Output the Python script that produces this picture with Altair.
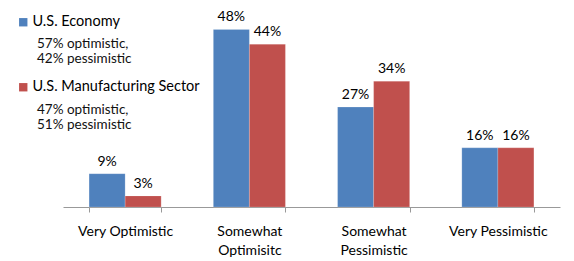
import altair as alt
import pandas as pd

categories = ["Very Optimistic", "Somewhat|Optimisitc", "Somewhat|Pessimistic", "Very Pessimistic"]
series = ["U.S. Economy", "U.S. Manufacturing Sector"]
economy = [9, 48, 27, 16]
manufacturing = [3, 44, 34, 16]
notes_economy = ["57% optimistic,", "42% pessimistic"]
notes_manufacturing = ["47% optimistic,", "51% pessimistic"]
colors = ["#4F81BD", "#C0504D"]

rows = []
for c, v in zip(categories, economy):
    rows.append({"cat": c, "series": series[0], "value": v})
for c, v in zip(categories, manufacturing):
    rows.append({"cat": c, "series": series[1], "value": v})
df = pd.DataFrame(rows)
df["label"] = df["value"].astype(str) + "%"

FONT = "Lato"

x = alt.X("cat:N", sort=categories, title=None,
          scale=alt.Scale(paddingInner=0.42, paddingOuter=0.21),
          axis=alt.Axis(labelExpr="split(datum.label, '|')", labelAngle=0,
                        labelFontSize=14, labelFont=FONT, labelColor="#000",
                        labelPadding=12, labelLineHeight=19, labelBaseline="top",
                        tickBand="extent", tickSize=5, tickColor="#999",
                        domainColor="#999", grid=False))
xo = alt.XOffset("series:N", sort=series, scale=alt.Scale(paddingInner=0, paddingOuter=0))
y = alt.Y("value:Q", scale=alt.Scale(domain=[0, 50]), axis=None)
color = alt.Color("series:N", sort=series,
                  scale=alt.Scale(domain=series, range=colors),
                  legend=alt.Legend(orient="none", legendX=-47, legendY=-7, title=None,
                                    symbolType="square", symbolSize=70, symbolStrokeWidth=0,
                                    labelFontSize=14.5, labelFont=FONT, labelColor="#000",
                                    rowPadding=50, padding=0, labelOffset=2, labelLimit=300))

base = alt.Chart(df)
bars = base.mark_bar(stroke="white", strokeWidth=0.3, strokeOpacity=0.6).encode(x=x, xOffset=xo, y=y, color=color)
texts = base.mark_text(baseline="bottom", dy=-5, fontSize=14, font=FONT, color="#000").encode(
    x=x, xOffset=xo, y=y, text="label:N")

n1 = alt.Chart(pd.DataFrame({"t": [notes_economy]})).mark_text(
    align="left", baseline="middle", fontSize=13.5, font=FONT, color="#111", lineHeight=15
).encode(x=alt.value(-26), y=alt.value(22), text="t")
n2 = alt.Chart(pd.DataFrame({"t": [notes_manufacturing]})).mark_text(
    align="left", baseline="middle", fontSize=13.5, font=FONT, color="#111", lineHeight=15
).encode(x=alt.value(-26), y=alt.value(88), text="t")

chart = alt.layer(bars, texts, n1, n2).properties(
    width=497, height=185,
    autosize=alt.AutoSizeParams(type="none"),
    padding={"left": 55, "top": 14, "right": 6, "bottom": 53},
).configure_view(stroke=None)

chart.save("out.html", embed_options={"renderer": "svg", "actions": False})
